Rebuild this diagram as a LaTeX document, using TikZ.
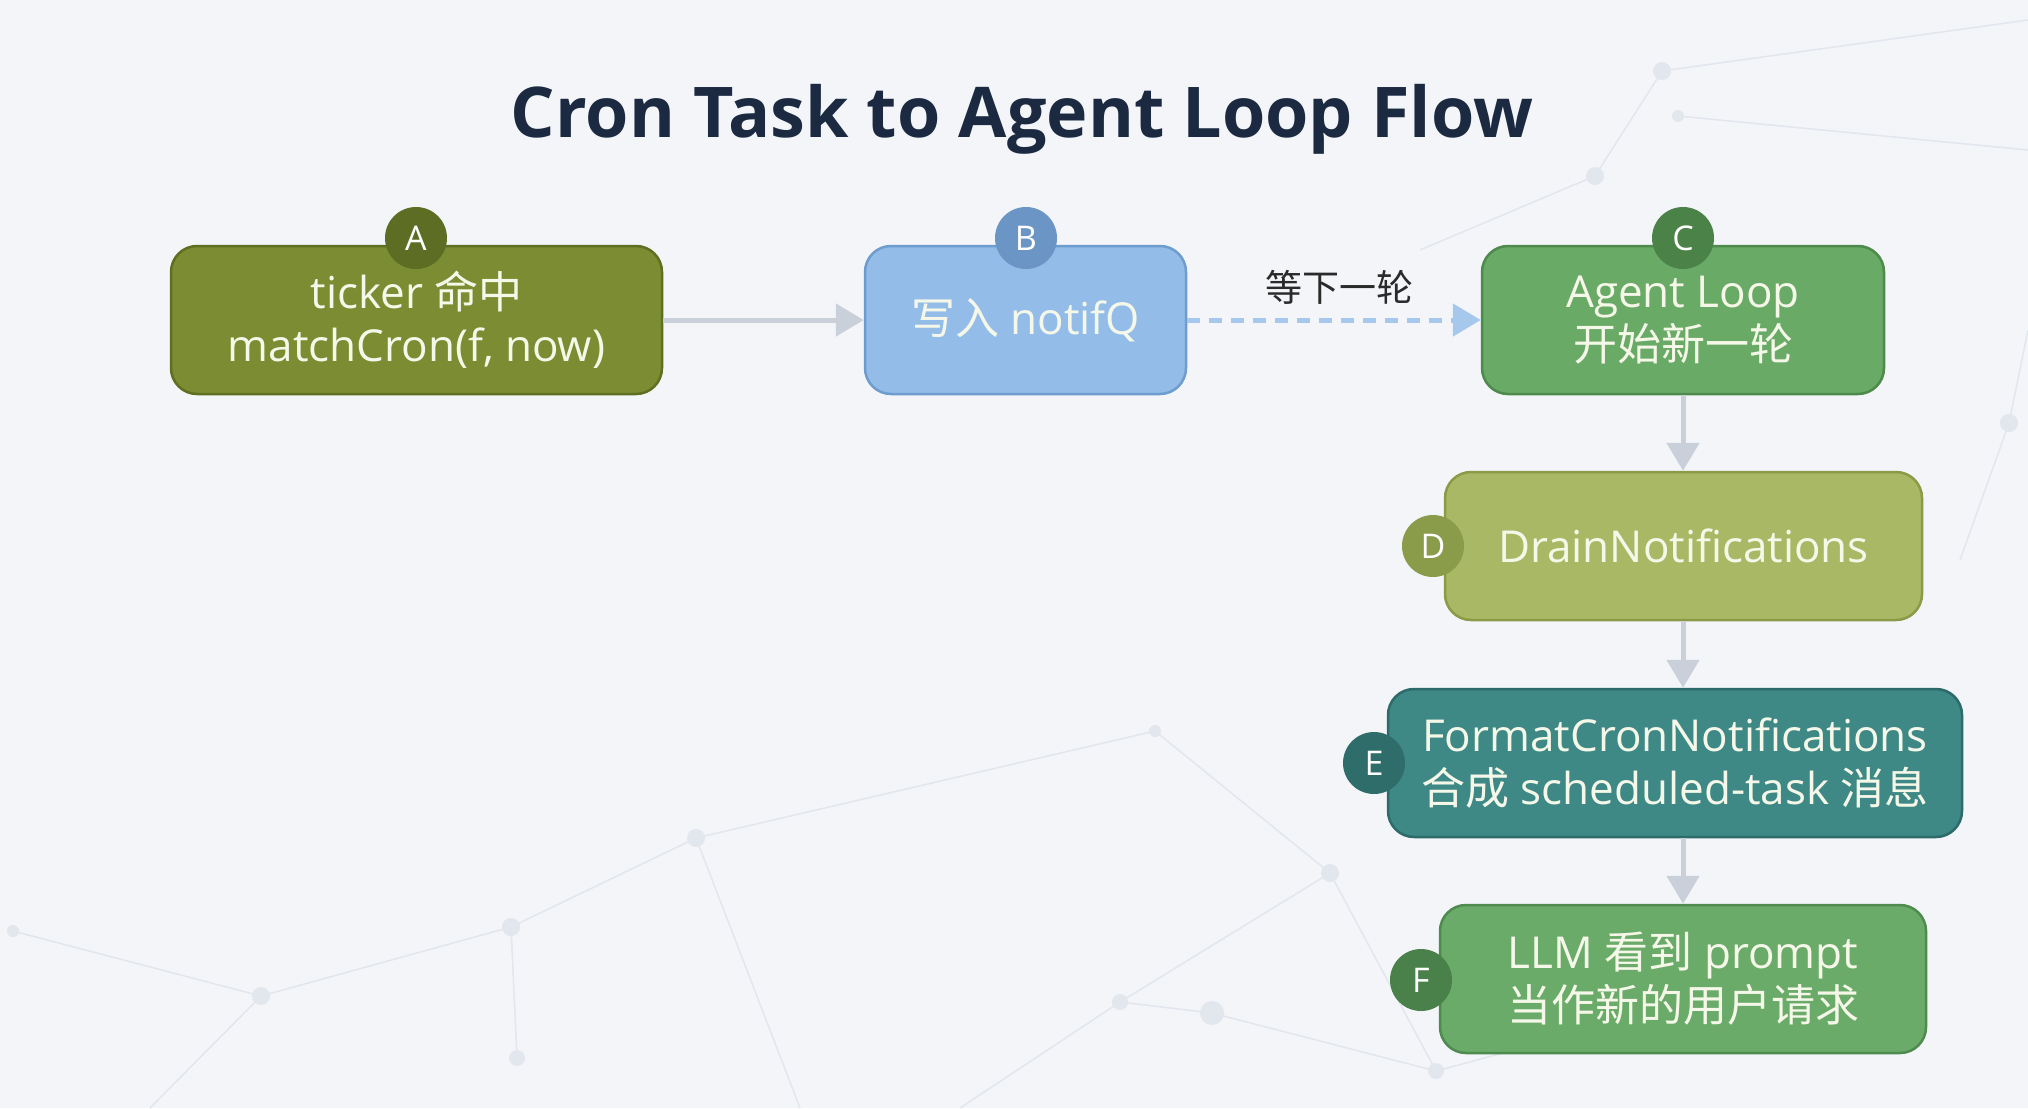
\documentclass[tikz,border=0pt]{standalone}
\usepackage{fontspec}
\setmainfont{Open Sans}
\newfontfamily\cjk{Noto Sans CJK SC}
\usetikzlibrary{arrows.meta}
\definecolor{bg}{HTML}{F3F5F9}
\definecolor{net}{HTML}{E2E6ED}
\definecolor{ttl}{HTML}{1B2A41}
\definecolor{txt}{HTML}{F5F8E8}
\definecolor{arr}{HTML}{C9D0DA}
\definecolor{dsh}{HTML}{A6C8EC}
\definecolor{lbl}{HTML}{2A2A2A}
\definecolor{afill}{HTML}{7C8C32}\definecolor{aline}{HTML}{5F6F22}\definecolor{abadge}{HTML}{5D6D24}
\definecolor{bfill}{HTML}{93BDE8}\definecolor{bline}{HTML}{6E9CCF}\definecolor{bbadge}{HTML}{6B95C5}
\definecolor{cfill}{HTML}{6AAA67}\definecolor{cline}{HTML}{4E8A4B}\definecolor{cbadge}{HTML}{4B8248}
\definecolor{dfill}{HTML}{A9B865}\definecolor{dline}{HTML}{8B9A46}\definecolor{dbadge}{HTML}{8A9B4A}
\definecolor{efill}{HTML}{3E8886}\definecolor{eline}{HTML}{2C6B69}\definecolor{ebadge}{HTML}{2F6D6A}
\definecolor{ffill}{HTML}{6AAB6A}\definecolor{fline}{HTML}{4F8A4F}\definecolor{fbadge}{HTML}{4A8049}
\begin{document}
\begin{tikzpicture}[x=1pt,y=-1pt,
  box/.style={draw, line width=2.5pt, rounded corners=26pt, minimum height=148pt,
    align=center, text=txt, inner sep=0pt, font=\fontsize{44}{53}\selectfont},
  badge/.style={circle, minimum size=62pt, inner sep=0pt, text=white,
    font=\fontsize{34}{34}\selectfont},
  flow/.style={draw=arr, line width=5pt, -{Triangle[length=28pt,width=32pt]}},
  dashflow/.style={draw=dsh, line width=5pt, dash pattern=on 13pt off 9pt,
    -{Triangle[length=28pt,width=32pt]}},
  netline/.style={draw=net, line width=1.5pt},
  netdot/.style={fill=net}]
\fill[bg] (0,0) rectangle (2028,1108);
\useasboundingbox (0,0) rectangle (2028,1108);
% faint background network
\coordinate (n1) at (1662,71); \coordinate (n2) at (1595,176); \coordinate (n3) at (1678,116);
\coordinate (n4) at (2009,423); \coordinate (n5) at (696,838); \coordinate (n6) at (511,927);
\coordinate (n7) at (261,996); \coordinate (n8) at (13,931); \coordinate (n9) at (1330,873);
\coordinate (n10) at (1120,1002); \coordinate (n11) at (1212,1013); \coordinate (n12) at (1436,1071);
\coordinate (n13) at (517,1058); \coordinate (n14) at (1155,731);
\draw[netline] (n1) -- (n2) (n3) -- (2028,150) (n1) -- (2028,20) (n2) -- (1420,250)
  (n4) -- (2028,330) (n4) -- (1960,560)
  (n5) -- (n6) (n5) -- (n14) (n5) -- (800,1108) (n6) -- (n7) (n7) -- (150,1108)
  (n8) -- (n7) (n6) -- (n13) (n10) -- (n9) (n10) -- (n11) (n9) -- (n12) (n11) -- (n12)
  (n14) -- (n9) (n10) -- (960,1108) (n12) -- (1700,1000);
\foreach \p/\r in {n1/9,n2/9,n3/6,n4/9,n5/9,n6/9,n7/9,n8/6,n9/9,n10/8,n11/12,n12/8,n13/8,n14/6}
  \fill[netdot] (\p) circle (\r pt);
% title
\node[text=ttl, font=\fontsize{70}{70}\selectfont\bfseries] (T) at (1022,119) {Cron Task to Agent Loop Flow};
% boxes
\node[box, fill=afill, draw=aline, minimum width=491pt] (A) at (416.5,320) {ticker {\cjk 命中}\\matchCron(f, now)};
\node[box, fill=bfill, draw=bline, minimum width=321pt] (B) at (1025.5,320) {{\cjk 写入} notifQ};
\node[box, fill=cfill, draw=cline, minimum width=402pt] (C) at (1683,320) {Agent Loop\\{\cjk 开始新一轮}};
\node[box, fill=dfill, draw=dline, minimum width=477pt] (D) at (1683.5,546) {DrainNotifications};
\node[box, fill=efill, draw=eline, minimum width=574pt] (E) at (1675,763) {FormatCronNotifications\\{\cjk 合成} scheduled-task {\cjk 消息}};
\node[box, fill=ffill, draw=fline, minimum width=486pt] (F) at (1683,979) {LLM {\cjk 看到} prompt\\{\cjk 当作新的用户请求}};
% badges
\node[badge, fill=abadge] (bA) at (416,238) {A};
\node[badge, fill=bbadge] (bB) at (1026,238) {B};
\node[badge, fill=cbadge] (bC) at (1683,238) {C};
\node[badge, fill=dbadge] (bD) at (1433,546) {D};
\node[badge, fill=ebadge] (bE) at (1374,763) {E};
\node[badge, fill=fbadge] (bF) at (1421,980) {F};
% connectors
\draw[flow] (A) -- (B);
\draw[dashflow] (B) -- (C);
\node[text=lbl, font=\cjk\fontsize{37}{37}\selectfont] (L) at (1339,287) {等下一轮};
\draw[flow] (C.south) -- (C.south |- D.north);
\draw[flow] (C.south |- D.south) -- (C.south |- E.north);
\draw[flow] (C.south |- E.south) -- (C.south |- F.north);
\end{tikzpicture}
\end{document}
